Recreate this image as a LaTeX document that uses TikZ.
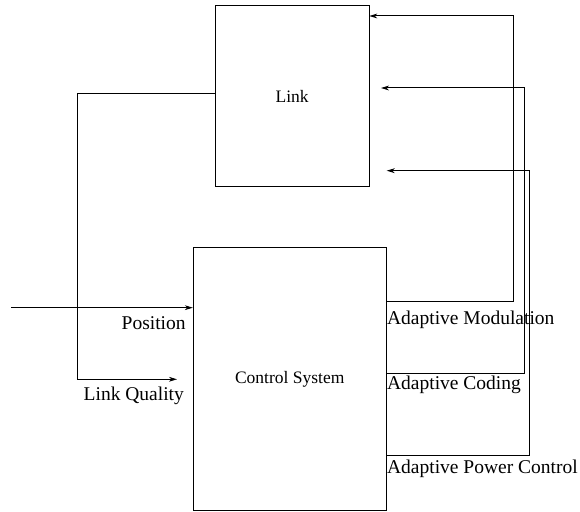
\documentclass[tikz,border=0pt]{standalone}
\usepackage{fontspec}
\setmainfont{Liberation Serif}
\usetikzlibrary{positioning,arrows.meta,calc}
\tikzset{blk/.style={draw, line width=0.5pt, inner sep=0pt, font=\fontsize{8.75}{10}\selectfont}}
\tikzset{sig/.style={draw, line width=0.5pt, -{Stealth[length=4pt,width=2.4pt,inset=1.2pt]}}}
\tikzset{lbl/.style={inner sep=0pt, font=\fontsize{9.75}{11}\selectfont}}

\begin{document}
\begin{tikzpicture}[x=0.5pt,y=-0.5pt]
	\useasboundingbox (0,0) rectangle (580,512);
	% the two blocks
	\node[blk, minimum width=77pt, minimum height=90.5pt] (link) at (292.2,96.2) {Link};
	\node[blk, minimum width=96.35pt, minimum height=131.5pt] (ctrl) at (289.7,379.2) {Control System};

	% inputs on the left
	\coordinate (posin) at (11,307.7);
	\coordinate (lqturn) at (77.3,93.7);
	\coordinate (lqend) at (177,379.3);
	\draw[sig] (posin) -- (posin -| ctrl.west);
	\draw[sig] (lqturn -| link.west) -- (lqturn) |- (lqend);
	\node[lbl, anchor=base east] (poslbl) at (186,330) {Position};
	\node[lbl, anchor=base west] (lqlbl) at (83.3,401) {Link Quality};

	% feedback to the link
	\coordinate (amend) at (369.3,16);
	\coordinate (acend) at (381,88);
	\coordinate (apend) at (386.7,170.7);
	\draw[sig] (ctrl.east |- 0,301.7) -| (513,16) -- (amend);
	\draw[sig] (ctrl.east |- 0,373.3) -| (524,88) -- (acend);
	\draw[sig] (ctrl.east |- 0,455.7) -| (529.7,170.7) -- (apend);
	\node[lbl, anchor=base west] (amlbl) at (386.7,324.3) {Adaptive Modulation};
	\node[lbl, anchor=base west] (aclbl) at (386.7,390) {Adaptive Coding};
	\node[lbl, anchor=base west] (aplbl) at (386.7,473.3) {Adaptive Power Control};
\end{tikzpicture}
\end{document}
